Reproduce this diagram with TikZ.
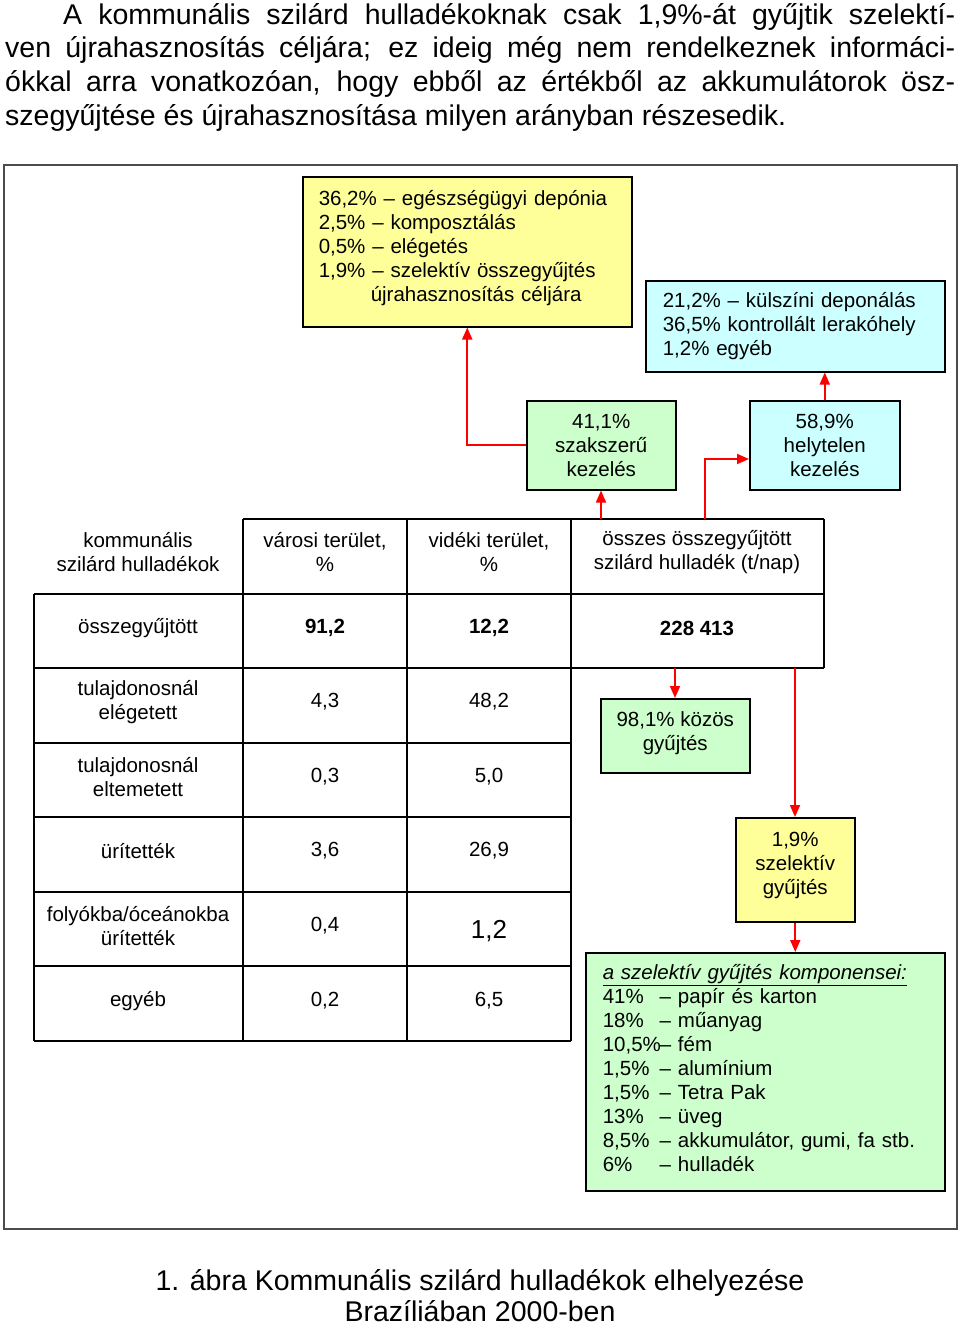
\documentclass[tikz,border=0pt]{standalone}
\usepackage{fontspec}
\setmainfont{Liberation Sans}
\usetikzlibrary{arrows.meta,calc}
\definecolor{yel}{HTML}{FFFF99}
\definecolor{cyn}{HTML}{CCFFFF}
\definecolor{grn}{HTML}{CCFFCC}
\newcommand\boxfont{\fontsize{20.5}{24}\selectfont}
\newcommand\capfont{\fontsize{28.5}{33}\selectfont}
\newcommand\pc[1]{\makebox[57pt][l]{#1}}
\begin{document}
\begin{tikzpicture}[x=1pt,y=-1pt,
  box/.style={draw=black,line width=1.5pt,inner sep=0pt,anchor=north west,font=\boxfont},
  btext/.style={inner sep=0pt,font=\boxfont},
  cell/.style={inner sep=0pt,align=center,font=\boxfont},
  grid/.style={draw=black,line width=1.6pt},
  arr/.style={draw=red,line width=1.8pt,-{Triangle[length=12pt,width=10pt]}},
  para/.style={inner sep=0pt,anchor=base west,font=\capfont}]
\useasboundingbox (0,0) rectangle (960,1327);

% top paragraph
\node[para] (p1) at (63,24.5) {\makebox[892pt][s]{A kommunális szilárd hulladékoknak csak 1,9\%-át gyűjtik szelektí-}};
\node[para] (p2) at (5,58) {\makebox[950pt][s]{ven újrahasznosítás céljára; ez ideig még nem rendelkeznek informáci-}};
\node[para] (p3) at (5,91.5) {\makebox[950pt][s]{ókkal arra vonatkozóan, hogy ebből az értékből az akkumulátorok ösz-}};
\node[para] (p4) at (5,125) {szegyűjtése és újrahasznosítása milyen arányban részesedik.};

% frame
\draw[black!70,line width=1.5pt] (4,165) rectangle (957,1229);

% boxes
\node[box,fill=yel,minimum width=329pt,minimum height=150pt] (yb) at (302,176) {};
\node[btext,text width=297pt,align=left] (ybt) at ($(yb.center)+(0,-4)$)
 {36,2\% – egészségügyi depónia\\2,5\% – komposztálás\\0,5\% – elégetés\\1,9\% – szelektív összegyűjtés\\\hspace*{52pt}újrahasznosítás céljára};
\node[box,fill=cyn,minimum width=299pt,minimum height=91pt,text width=265pt,inner xsep=17pt,align=left] (cb) at (645,280)
 {21,2\% – külszíni deponálás\\36,5\% kontrollált lerakóhely\\1,2\% egyéb};
\node[box,fill=grn,minimum width=149pt,minimum height=89pt,align=center] (szak) at (526,400) {41,1\%\\szakszerű\\kezelés};
\node[box,fill=cyn,minimum width=150pt,minimum height=89pt,align=center] (hely) at (749,400) {58,9\%\\helytelen\\kezelés};
\node[box,fill=grn,minimum width=149pt,minimum height=74pt] (kozos) at (600,698) {};
\node[btext,align=center] (kozost) at ($(kozos.center)+(0,-3)$) {98,1\% közös\\gyűjtés};
\node[box,fill=yel,minimum width=119pt,minimum height=104pt] (szel) at (735,817) {};
\node[btext,align=center] (szelt) at ($(szel.center)+(0,-4)$) {1,9\%\\szelektív\\gyűjtés};
\node[box,fill=grn,minimum width=359pt,minimum height=238pt] (komp) at (585,952) {};
\node[btext,text width=325pt,align=left] (kompt) at ($(komp.center)+(0,-4)$)
 {\underline{\textit{a szelektív gyűjtés komponensei:}}\\
  \pc{41\%}– papír és karton\\
  \pc{18\%}– műanyag\\
  \pc{10,5\%}– fém\\
  \pc{1,5\%}– alumínium\\
  \pc{1,5\%}– Tetra Pak\\
  \pc{13\%}– üveg\\
  \pc{8,5\%}– akkumulátor, gumi, fa stb.\\
  \pc{6\%}– hulladék};

% table grid
\draw[grid] (243,519) -- (824,519);
\draw[grid] (34,594) -- (824,594);
\draw[grid] (34,668) -- (824,668);
\foreach \yy in {743,817,892,966,1041} \draw[grid] (34,\yy) -- (571,\yy);
\draw[grid] (34,594) -- (34,1041);
\foreach \xx in {243,407,571} \draw[grid] (\xx,519) -- (\xx,1041);
\draw[grid] (824,519) -- (824,668);

% table text
\node[cell] (h1) at (138,552) {kommunális\\szilárd hulladékok};
\node[cell] (h2) at (325,552) {városi terület,\\\%};
\node[cell] (h3) at (489,552) {vidéki terület,\\\%};
\node[cell] (h4) at (697,552) {összes összegyűjtött\\szilárd hulladék (t/nap)};
\node[cell] (r1a) at (138,628) {összegyűjtött};
\node[cell] (r1b) at (325,628) {\textbf{91,2}};
\node[cell] (r1c) at (489,628) {\textbf{12,2}};
\node[cell] (r1d) at (697,628) {\textbf{228 413}};
\node[cell] (r2a) at (138,702) {tulajdonosnál\\elégetett};
\node[cell] (r2b) at (325,702) {4,3};
\node[cell] (r2c) at (489,702) {48,2};
\node[cell] (r3a) at (138,777) {tulajdonosnál\\eltemetett};
\node[cell] (r3b) at (325,777) {0,3};
\node[cell] (r3c) at (489,777) {5,0};
\node[cell] (r4a) at (138,851) {ürítették};
\node[cell] (r4b) at (325,851) {3,6};
\node[cell] (r4c) at (489,851) {26,9};
\node[cell] (r5a) at (138,926) {folyókba/óceánokba\\ürítették};
\node[cell] (r5b) at (325,926) {0,4};
\node[cell,font=\fontsize{26}{30}\selectfont] (r5c) at (489,931) {1,2};
\node[cell] (r6a) at (138,1001) {egyéb};
\node[cell] (r6b) at (325,1001) {0,2};
\node[cell] (r6c) at (489,1001) {6,5};

% connector anchors on the table
\coordinate (t1) at (601,519);
\coordinate (t2) at (705,519);
\coordinate (t3) at (675,668);
\coordinate (t4) at (795,668);

% arrows
\draw[arr] (szak.west) -| (yb.south);
\draw[arr] (hely.north) -- (hely.north |- cb.south);
\draw[arr] (t1) -- (t1 |- szak.south);
\draw[arr] (t2) |- (hely.west |- 0,459);
\draw[arr] (t3) -- (t3 |- kozos.north);
\draw[arr] (t4) -- (t4 |- szel.north);
\draw[arr] (szel.south) -- (szel.south |- komp.north);

% caption
\node[inner sep=0pt,anchor=base,font=\capfont] (c1) at (480,1290) {1. ábra Kommunális szilárd hulladékok elhelyezése};
\node[inner sep=0pt,anchor=base,font=\capfont] (c2) at (480,1321) {Brazíliában 2000-ben};
\end{tikzpicture}
\end{document}
